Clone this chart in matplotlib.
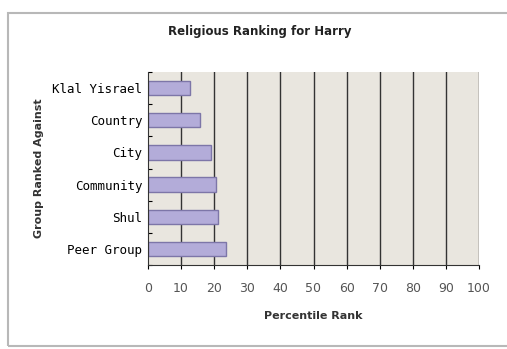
import matplotlib
matplotlib.use('Agg')
import matplotlib.pyplot as plt
from matplotlib.patches import Rectangle

groups = ['Peer Group', 'Shul', 'Community', 'City', 'Country', 'Klal Yisrael']
ranks = [23.6, 21.2, 20.5, 18.9, 15.7, 12.6]
xticks = list(range(0, 101, 10))

fig = plt.figure(figsize=(5.07, 3.49), dpi=100)
fig.patches.append(Rectangle((8/507, 3/349), 1, 1 - 16/349, transform=fig.transFigure,
                             fill=False, edgecolor='#b8b8b8', linewidth=1.5))

ax = fig.add_axes([148/507, 1 - 265/349, 331/507, 193/349])
ax.set_facecolor('#e9e6df')
ax.barh(groups, ranks, height=0.45, color='#b3acd9', edgecolor='#7d76a8', linewidth=1)
ax.set_xlim(0, 100)
ax.set_ylim(-0.5, 5.5)
for x in xticks[1:]:
    ax.axvline(x, color='#333333', linewidth=1, zorder=0)

ax.set_xticks(xticks)
ax.set_xticklabels([str(t) for t in xticks], fontsize=9, color='#555555')
ax.tick_params(axis='x', length=3, pad=9)
# ticks between categories, labels at category centres
ax.set_yticks([i + 0.5 for i in range(-1, 6)], minor=False)
ax.set_yticklabels([])
ax.set_yticks(range(6), minor=True)
ax.set_yticklabels(groups, minor=True, family='DejaVu Sans Mono', fontsize=9)
ax.tick_params(axis='y', which='major', length=3, direction='in')
ax.tick_params(axis='y', which='minor', length=0, pad=4)
for s in ['top', 'right']:
    ax.spines[s].set_visible(False)
ax.spines['left'].set_color('#333333')
ax.spines['bottom'].set_color('#333333')

ax.set_xlabel('Percentile Rank', fontsize=8, fontweight='bold', color='#333333', labelpad=12)
ax.set_ylabel('Group Ranked Against', fontsize=8, fontweight='bold', color='#333333', labelpad=6)
fig.text(260/507, 1 - 32/349, 'Religious Ranking for Harry', ha='center', va='center',
         fontsize=8.5, fontweight='bold', color='#222222')

fig.savefig('out.png', dpi=100)
